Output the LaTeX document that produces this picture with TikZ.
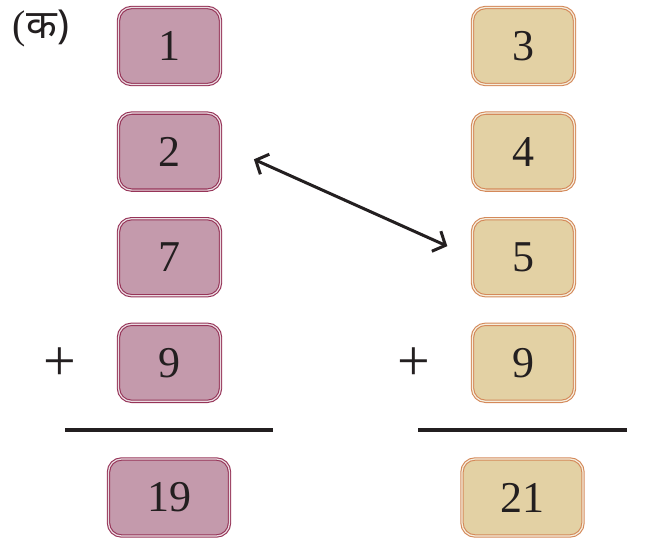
\documentclass[tikz,border=0pt]{standalone}
\usepackage{fontspec}
\setmainfont{Liberation Serif}
\newfontfamily\devfont[Script=Devanagari]{Noto Sans}
\usetikzlibrary{arrows.meta, positioning}
\definecolor{plumfill}{RGB}{196, 154, 172}
\definecolor{plumline}{RGB}{150, 52, 88}
\definecolor{sandfill}{RGB}{227, 209, 164}
\definecolor{sandline}{RGB}{212, 137, 90}
\definecolor{inkgray}{RGB}{35, 31, 32}

\begin{document}
\begin{tikzpicture}[
    x=1pt, y=-1pt,
    numbox/.style={rounded corners=13pt, line width=1.1pt, double distance=1.2pt,
        minimum width=102pt, minimum height=77pt, inner sep=0pt,
        font=\fontsize{44}{50}\selectfont, text=inkgray},
    plumbox/.style={numbox, draw=plumline, double=plumfill!35!white, fill=plumfill},
    sandbox/.style={numbox, draw=sandline, double=sandfill!35!white, fill=sandfill},
    sumbox/.style={minimum width=121pt},
    rule/.style={line width=3.2pt, draw=inkgray},
    plus/.style={font=\fontsize{58}{60}\selectfont, text=inkgray, inner sep=0pt},
    node distance=27.5pt
]
\useasboundingbox (0,0) rectangle (655,548);

% === Etiqueta ===
\node[font=\fontsize{40}{46}\selectfont, text=inkgray] (lbl) at (41,28) {(\devfont क)};

% === Columna izquierda ===
\node[plumbox] (l1) at (169.5,46) {1};
\node[plumbox, below=of l1] (l2) {2};
\node[plumbox, below=of l2] (l3) {7};
\node[plumbox, below=of l3] (l4) {9};
\node[plus] (lplus) at (60,364) {+};
\coordinate (la) at (65,430);
\coordinate (lb) at (273,430);
\draw[rule] (la) -- (lb);
\node[plumbox, sumbox] (lsum) at (169,497.5) {19};

% === Columna derecha ===
\node[sandbox] (r1) at (523.5,46) {3};
\node[sandbox, below=of r1] (r2) {4};
\node[sandbox, below=of r2] (r3) {5};
\node[sandbox, below=of r3] (r4) {9};
\node[plus] (rplus) at (414,364) {+};
\coordinate (ra) at (418,430);
\coordinate (rb) at (627,430);
\draw[rule] (ra) -- (rb);
\node[sandbox, sumbox] (rsum) at (522.5,497.5) {21};

% === Intercambio ===
\draw[line width=3pt, draw=inkgray, {Straight Barb[length=10pt,width=22pt]}-{Straight Barb[length=10pt,width=22pt]},
      shorten <=36pt, shorten >=27pt] ([yshift=7pt]l2.east) -- (r3.west);

\end{tikzpicture}
\end{document}
